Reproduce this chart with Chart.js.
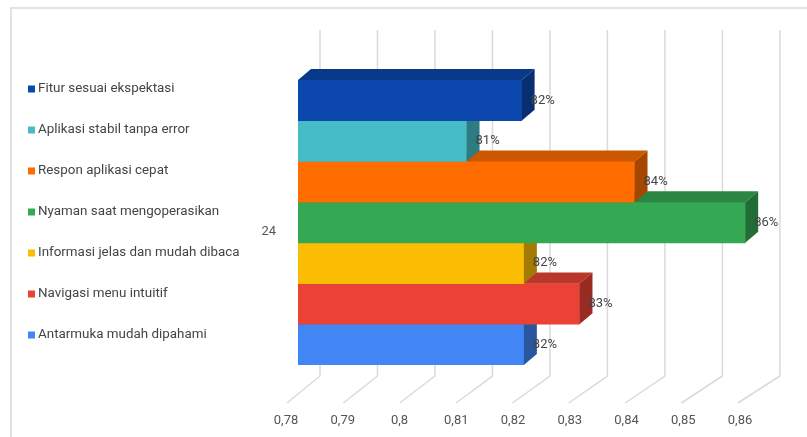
<!DOCTYPE html>
<html>
<head>
<meta charset="utf-8">
<script src="https://cdn.jsdelivr.net/npm/chart.js@4.4.1/dist/chart.umd.min.js"></script>
<style>
  html, body { margin: 0; padding: 0; background: #fff; }
  #wrap { width: 807px; height: 437px; position: relative; }
</style>
</head>
<body>
<div id="wrap"><canvas id="chart"></canvas></div>
<script>
// data
const categories = ['24'];
const seriesNames = [
  'Fitur sesuai ekspektasi',
  'Aplikasi stabil tanpa error',
  'Respon aplikasi cepat',
  'Nyaman saat mengoperasikan',
  'Informasi jelas dan mudah dibaca',
  'Navigasi menu intuitif',
  'Antarmuka mudah dipahami'
];
const seriesValues = [0.8194, 0.8097, 0.8393, 0.8588, 0.8198, 0.8296, 0.8198];
const seriesColors = ['#0b47ad', '#46bdc6', '#ff6d01', '#34a853', '#fbbc04', '#ea4335', '#4285f4'];
const xTicks = [0.78, 0.79, 0.8, 0.81, 0.82, 0.83, 0.84, 0.85, 0.86];

const FONT = 'Roboto, Arial, sans-serif';
const DX = 13, DY = 11; // bar depth

function shade(hex, f) {
  const n = parseInt(hex.slice(1), 16);
  const r = Math.round(((n >> 16) & 255) * f);
  const g = Math.round(((n >> 8) & 255) * f);
  const b = Math.round((n & 255) * f);
  return `rgb(${r},${g},${b})`;
}

function fmt(v) {
  return String(Math.round(v * 100) / 100).replace('.', ',');
}

const depthPlugin = {
  id: 'depth',
  beforeDraw(chart) {
    const ctx = chart.ctx;
    ctx.save();
    ctx.strokeStyle = '#d9d9d9';
    ctx.lineWidth = 1.5;
    ctx.beginPath();
    ctx.moveTo(11, chart.height);
    ctx.lineTo(11, 8);
    ctx.lineTo(chart.width, 8);
    ctx.stroke();
    ctx.restore();
  },
  beforeDatasetsDraw(chart) {
    const { ctx, chartArea } = chart;
    const xs = chart.scales.x;
    const left = chartArea.left;
    ctx.save();
    ctx.strokeStyle = '#dadada';
    ctx.lineWidth = 1.5;
    xs.ticks.forEach(t => {
      const p = xs.getPixelForValue(t.value);
      const bx = left + 22 + (p - left) * 1.013;
      const fx = left - 11 + (p - left) * 0.993;
      ctx.beginPath();
      ctx.moveTo(bx, chartArea.top - 50);
      ctx.lineTo(bx, chartArea.bottom + 11);
      ctx.lineTo(fx, chartArea.bottom + 38);
      ctx.stroke();
    });
    ctx.restore();
  },
  afterDatasetDraw(chart, args) {
    const ctx = chart.ctx;
    const xs = chart.scales.x;
    const color = seriesColors[args.index];
    const base = xs.getPixelForValue(xs.min);
    args.meta.data.forEach(bar => {
      const { x, y, height } = bar.getProps(['x', 'y', 'height'], true);
      const top = y - height / 2, bottom = y + height / 2;
      ctx.save();
      // top face
      ctx.fillStyle = shade(color, 0.8);
      ctx.beginPath();
      ctx.moveTo(base, top);
      ctx.lineTo(base + DX, top - DY);
      ctx.lineTo(x + DX, top - DY);
      ctx.lineTo(x, top);
      ctx.closePath();
      ctx.fill();
      // side face
      ctx.fillStyle = shade(color, 0.65);
      ctx.beginPath();
      ctx.moveTo(x, top);
      ctx.lineTo(x + DX, top - DY);
      ctx.lineTo(x + DX, bottom - DY);
      ctx.lineTo(x, bottom);
      ctx.closePath();
      ctx.fill();
      ctx.restore();
    });
  },
  afterDatasetsDraw(chart) {
    const ctx = chart.ctx;
    ctx.save();
    ctx.font = '13px ' + FONT;
    ctx.fillStyle = '#444';
    ctx.textAlign = 'left';
    ctx.textBaseline = 'middle';
    chart.data.datasets.forEach((ds, i) => {
      const bar = chart.getDatasetMeta(i).data[0];
      const { x, y } = bar.getProps(['x', 'y'], true);
      ctx.fillText(Math.round(ds.data[0] * 100) + '%', x + 9, y);
    });
    ctx.restore();
  },
  afterDraw(chart) {
    const ctx = chart.ctx;
    const top = chart.chartArea.top;
    ctx.save();
    ctx.font = '13.4px ' + FONT;
    ctx.textAlign = 'left';
    ctx.textBaseline = 'middle';
    chart.data.datasets.forEach((ds, i) => {
      const y = top + 9 + i * 41;
      ctx.fillStyle = ds.backgroundColor;
      ctx.fillRect(28, y - 3.5, 7, 7);
      ctx.fillStyle = '#444';
      ctx.fillText(ds.label, 38, y);
    });
    ctx.restore();
  }
};

new Chart(document.getElementById('chart'), {
  type: 'bar',
  data: {
    labels: categories,
    datasets: seriesNames.map((name, i) => ({
      label: name,
      data: [seriesValues[i]],
      base: xTicks[0],
      backgroundColor: seriesColors[i],
      borderWidth: 0,
      categoryPercentage: 1,
      barPercentage: 1
    }))
  },
  options: {
    indexAxis: 'y',
    responsive: true,
    maintainAspectRatio: false,
    animation: false,
    layout: { padding: { left: 258, right: 55, top: 80, bottom: 8 } },
    plugins: {
      legend: { display: false },
      tooltip: { enabled: false }
    },
    scales: {
      x: {
        min: 0.78,
        max: 0.86,
        afterBuildTicks: s => { s.ticks = xTicks.map(v => ({ value: v })); },
        afterFit: s => { s.height = 64; s.paddingLeft = 0; s.paddingRight = 0; },
        grid: { display: false, drawTicks: false },
        border: { display: false },
        ticks: {
          callback: v => fmt(v),
          labelOffset: -12,
          padding: 48,
          maxRotation: 0,
          autoSkip: false,
          color: '#555',
          font: { family: FONT, size: 13 }
        }
      },
      y: {
        afterFit: s => { s.width = 40; },
        grid: { display: false, drawTicks: false },
        border: { display: false },
        ticks: {
          padding: 22,
          labelOffset: 9,
          color: '#555',
          font: { family: FONT, size: 13 }
        }
      }
    }
  },
  plugins: [depthPlugin]
});
</script>
</body>
</html>
